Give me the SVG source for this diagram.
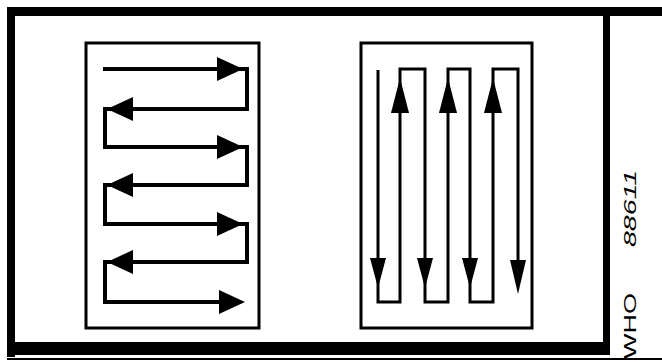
<svg xmlns="http://www.w3.org/2000/svg" width="662" height="362" viewBox="0 0 662 362">
<style>
.frame{fill:#000}
.box{fill:none;stroke:#000;stroke-width:3}
.wire{fill:none;stroke:#000;stroke-linejoin:miter;stroke-linecap:butt}
.head{fill:#000}
.lbl{font-family:"Liberation Sans",Arial,sans-serif;font-size:17px;fill:#000}
</style>
<rect width="662" height="362" fill="#fff"/>
<g id="frame">
<rect class="frame" x="7" y="7" width="655" height="9"/>
<rect class="frame" x="7" y="7" width="8" height="350"/>
<rect class="frame" x="7" y="342" width="603" height="13"/>
<rect class="frame" x="603" y="13" width="7" height="342"/>
<rect class="frame" x="7" y="358" width="655" height="2"/>
</g>
<g id="panel-horizontal">
<rect class="box" x="86" y="43" width="173" height="285"/>
</g>
<g id="panel-vertical">
<rect class="box" x="361" y="43" width="171" height="285"/>
</g>
<g id="connectors">
<path class="wire" stroke-width="4" d="M103,69 H247 V109 H105 V147 H247 V185 H105 V224 H247 V262 H105 V302 H235"/>
<path class="wire" stroke-width="3" d="M378,70 V302 H400 V69 H425 V302 H448 V69 H470 V302 H493 V69 H518 V262"/>
<polygon class="head" points="217,57 243,69 217,81"/>
<polygon class="head" points="217,135 243,147 217,159"/>
<polygon class="head" points="217,212 243,224 217,236"/>
<polygon class="head" points="219,290 245,302 219,314"/>
<polygon class="head" points="133,97 107,109 133,121"/>
<polygon class="head" points="133,173 107,185 133,197"/>
<polygon class="head" points="133,250 107,262 133,274"/>
<polygon class="head" points="370,258 378,288 386,258"/>
<polygon class="head" points="417,258 425,288 433,258"/>
<polygon class="head" points="462,258 470,288 478,258"/>
<polygon class="head" points="510,260 518,294 526,260"/>
<polygon class="head" points="391,113 400,78 409,113"/>
<polygon class="head" points="439,113 448,78 457,113"/>
<polygon class="head" points="484,113 493,78 502,113"/>
</g>
<g id="label">
<text class="lbl" transform="translate(636,359) rotate(-90)" textLength="66" lengthAdjust="spacingAndGlyphs">WHO</text>
<text class="lbl" font-style="italic" transform="translate(636,247) rotate(-90)" textLength="77" lengthAdjust="spacingAndGlyphs">88611</text>
</g>
</svg>
